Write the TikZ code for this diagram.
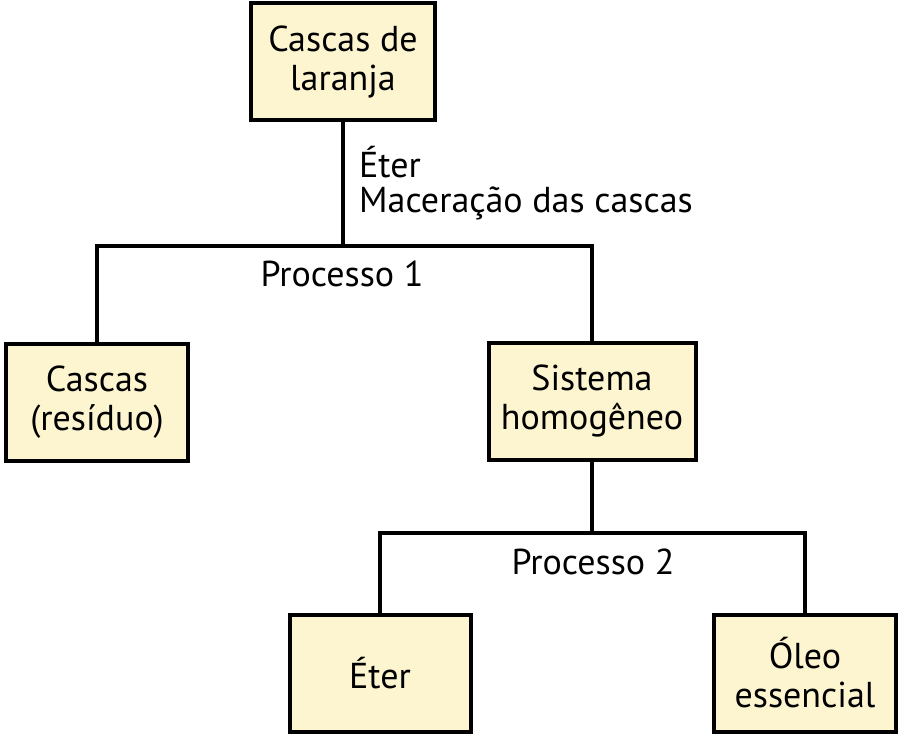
\documentclass[tikz,border=0pt]{standalone}
\usepackage{fontspec}
\setmainfont{PT Sans}
\definecolor{boxfill}{HTML}{FCF5CF}
\begin{document}
\begin{tikzpicture}[x=1pt,y=-1pt,
  box/.style={draw=black,line width=4pt,fill=boxfill,minimum width=#1,minimum height=117pt,align=center,inner sep=0pt,font=\fontsize{36}{39}\selectfont},
  lbl/.style={font=\fontsize{36}{39}\selectfont,inner sep=0pt},
  ln/.style={line width=4pt}]
\useasboundingbox (0,0) rectangle (900,738);
\node[box=184pt] (top) at (343,62) {Cascas de\\laranja};
\node[box=182pt] (res) at (97,402) {Cascas\\(resíduo)};
\node[box=207pt] (sis) at (592,401) {Sistema\\homogêneo};
\node[box=181pt] (eter) at (380,673) {Éter};
\node[box=182pt] (oleo) at (805,673) {Óleo\\essencial};
\coordinate (j1) at (343,246);
\coordinate (l1) at (97,246);
\coordinate (r1) at (592,246);
\coordinate (j2) at (592,533);
\coordinate (l2) at (380,533);
\coordinate (r2) at (805,533);
\draw[ln] (top.south) -- (j1);
\draw[ln,line cap=rect] (res.north) -- (l1) -- (r1) -- (sis.north);
\draw[ln] (sis.south) -- (j2);
\draw[ln,line cap=rect] (eter.north) -- (l2) -- (r2) -- (oleo.north);
\node[lbl,anchor=west] (t1) at (359,162) {Éter};
\node[lbl,anchor=west] (t2) at (359,203) {Maceração das cascas};
\node[lbl] (p1) at (342,274) {Processo 1};
\node[lbl] (p2) at (593,562) {Processo 2};
\end{tikzpicture}
\end{document}
